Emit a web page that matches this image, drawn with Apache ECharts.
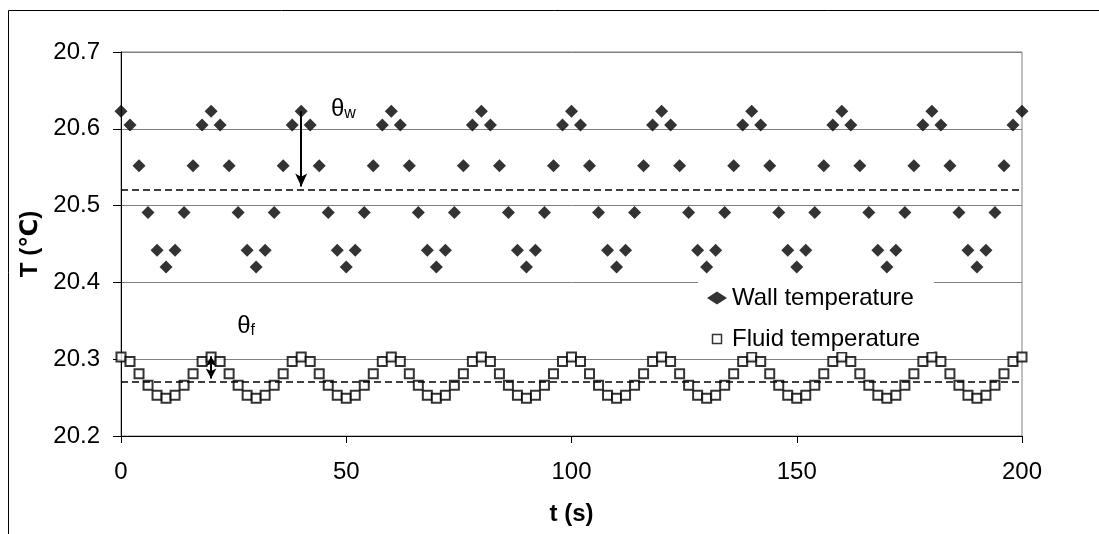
<!DOCTYPE html>
<html>
<head>
<meta charset="utf-8">
<script src="https://cdn.jsdelivr.net/npm/echarts@6/dist/echarts.min.js"></script>
<style>html,body{margin:0;padding:0;background:#fff;}#c{width:1099px;height:534px;}</style>
</head>
<body>
<div id="c"></div>
<script>
// time samples (s)
const times = [0,2,4,6,8,10,12,14,16,18,20,22,24,26,28,30,32,34,36,38,40,42,44,46,48,50,52,54,56,58,60,62,64,66,68,70,72,74,76,78,80,82,84,86,88,90,92,94,96,98,100,102,104,106,108,110,112,114,116,118,120,122,124,126,128,130,132,134,136,138,140,142,144,146,148,150,152,154,156,158,160,162,164,166,168,170,172,174,176,178,180,182,184,186,188,190,192,194,196,198,200];
// wall temperature (°C)
const wallTemp = [20.623,20.605,20.552,20.491,20.442,20.420,20.442,20.491,20.552,20.605,
20.623,20.605,20.552,20.491,20.442,20.420,20.442,20.491,20.552,20.605,
20.623,20.605,20.552,20.491,20.442,20.420,20.442,20.491,20.552,20.605,
20.623,20.605,20.552,20.491,20.442,20.420,20.442,20.491,20.552,20.605,
20.623,20.605,20.552,20.491,20.442,20.420,20.442,20.491,20.552,20.605,
20.623,20.605,20.552,20.491,20.442,20.420,20.442,20.491,20.552,20.605,
20.623,20.605,20.552,20.491,20.442,20.420,20.442,20.491,20.552,20.605,
20.623,20.605,20.552,20.491,20.442,20.420,20.442,20.491,20.552,20.605,
20.623,20.605,20.552,20.491,20.442,20.420,20.442,20.491,20.552,20.605,
20.623,20.605,20.552,20.491,20.442,20.420,20.442,20.491,20.552,20.605,
20.623];
// fluid temperature (°C)
const fluidTemp = [20.303,20.297,20.281,20.266,20.253,20.249,20.253,20.266,20.281,20.297,
20.303,20.297,20.281,20.266,20.253,20.249,20.253,20.266,20.281,20.297,
20.303,20.297,20.281,20.266,20.253,20.249,20.253,20.266,20.281,20.297,
20.303,20.297,20.281,20.266,20.253,20.249,20.253,20.266,20.281,20.297,
20.303,20.297,20.281,20.266,20.253,20.249,20.253,20.266,20.281,20.297,
20.303,20.297,20.281,20.266,20.253,20.249,20.253,20.266,20.281,20.297,
20.303,20.297,20.281,20.266,20.253,20.249,20.253,20.266,20.281,20.297,
20.303,20.297,20.281,20.266,20.253,20.249,20.253,20.266,20.281,20.297,
20.303,20.297,20.281,20.266,20.253,20.249,20.253,20.266,20.281,20.297,
20.303,20.297,20.281,20.266,20.253,20.249,20.253,20.266,20.281,20.297,
20.303];
// mean levels (dashed lines)
const wallMean = 20.524;
const fluidMean = 20.274;
// amplitude arrows: [t, from, to]
const wallArrow = [40, 20.623, 20.525];
const fluidArrow = [20, 20.304, 20.275];
// annotation positions [t, T]
const thetaWPos = [46.6, 20.626];
const thetaFPos = [25.8, 20.344];

const FONT = "'Liberation Sans', Arial, 'DejaVu Sans', sans-serif";
const FS = 24;
const wallData = times.map((t, i) => [t, wallTemp[i]]);
const fluidData = times.map((t, i) => [t, fluidTemp[i]]);

const rich = {
  a: {fontSize: 24, fontFamily: FONT, color: '#000', lineHeight: 26, verticalAlign: 'bottom'},
  b: {fontSize: 16, fontFamily: FONT, color: '#000', lineHeight: 15, verticalAlign: 'bottom'}
};

const chart = echarts.init(document.getElementById('c'), null, {renderer: 'canvas'});
chart.setOption({
  animation: false,
  backgroundColor: '#fff',
  graphic: [{
    type: 'rect', shape: {x: 8.5, y: 10.5, width: 1200, height: 700},
    style: {fill: 'none', stroke: '#000', lineWidth: 1}, silent: true, z: 0
  }],
  grid: {
    left: 121, right: 77, top: 52, bottom: 98,
    show: true, borderColor: '#808080', borderWidth: 1, backgroundColor: 'transparent',
    outerBoundsMode: 'none'
  },
  legend: {
    orient: 'vertical',
    left: 698, top: 277,
    padding: [8, 14, 0, 9],
    backgroundColor: '#fff',
    itemGap: 15,
    itemWidth: 20, itemHeight: 13,
    textStyle: {fontSize: FS, fontFamily: FONT, color: '#000', lineHeight: 26},
    selectedMode: false,
    data: [
      {name: 'Wall temperature', icon: 'diamond', itemStyle: {color: '#000', borderWidth: 0}},
      {name: 'Fluid temperature', icon: 'path://M0,0M2,2L11,2L11,11L2,11Z M13,13',
       itemStyle: {color: '#fff', borderColor: '#000', borderWidth: 1.5}}
    ]
  },
  xAxis: {
    type: 'value', min: 0, max: 200, interval: 50,
    name: 't (s)', nameLocation: 'middle', nameGap: 66,
    nameTextStyle: {fontSize: FS, fontWeight: 'bold', fontFamily: FONT, color: '#000'},
    axisLine: {show: true, onZero: false, lineStyle: {color: '#000', width: 1}},
    axisTick: {show: true, length: 7, lineStyle: {color: '#000'}},
    axisLabel: {fontSize: FS, fontFamily: FONT, color: '#000', margin: 24},
    splitLine: {show: false}
  },
  yAxis: {
    type: 'value', min: 20.2, max: 20.7, interval: 0.1,
    name: 'T (\u2103)', nameLocation: 'middle', nameGap: 79,
    nameTextStyle: {fontSize: FS, fontWeight: 'bold', fontFamily: FONT, color: '#000'},
    axisLine: {show: true, onZero: false, lineStyle: {color: '#000', width: 1}},
    axisTick: {show: true, length: 8, lineStyle: {color: '#000'}},
    axisLabel: {fontSize: FS, fontFamily: FONT, color: '#000', margin: 21,
      formatter: v => v.toFixed(1)},
    splitLine: {show: true, lineStyle: {color: '#808080', width: 1}}
  },
  series: [
    {
      name: 'Wall temperature', type: 'scatter', data: wallData,
      symbol: 'diamond', symbolSize: 13,
      itemStyle: {color: '#000'},
      emphasis: {disabled: true}, silent: true, z: 3,
      markLine: {
        silent: true, animation: false, label: {show: false},
        symbol: ['none', 'none'],
        data: [
          {yAxis: wallMean, lineStyle: {color: '#000', width: 1.5, type: [7, 4]}},
          [
            {coord: [wallArrow[0], wallArrow[1]], symbol: 'none',
             lineStyle: {color: '#000', width: 2, type: 'solid'}},
            {coord: [wallArrow[0], wallArrow[2]], symbol: 'arrow', symbolSize: [9, 13]}
          ]
        ]
      },
      markPoint: {
        silent: true, animation: false,
        data: [{coord: thetaWPos, symbol: 'circle', symbolSize: 0,
          itemStyle: {color: 'transparent'},
          label: {show: true, position: 'right', distance: 0,
            formatter: '{a|\u03b8}{b|w}', rich: rich}}]
      }
    },
    {
      name: 'Fluid temperature', type: 'scatter', data: fluidData,
      symbol: 'rect', symbolSize: 9,
      itemStyle: {color: '#fff', borderColor: '#000', borderWidth: 2},
      emphasis: {disabled: true}, silent: true, z: 3,
      markLine: {
        silent: true, animation: false, label: {show: false},
        symbol: ['none', 'none'],
        data: [
          {yAxis: fluidMean, lineStyle: {color: '#000', width: 1.5, type: [7, 4]}},
          [
            {coord: [fluidArrow[0], fluidArrow[1]], symbol: 'arrow', symbolSize: [8, 10],
             lineStyle: {color: '#000', width: 2, type: 'solid'}},
            {coord: [fluidArrow[0], fluidArrow[2]], symbol: 'arrow', symbolSize: [8, 10]}
          ]
        ]
      },
      markPoint: {
        silent: true, animation: false,
        data: [{coord: thetaFPos, symbol: 'circle', symbolSize: 0,
          itemStyle: {color: 'transparent'},
          label: {show: true, position: 'right', distance: 0,
            formatter: '{a|\u03b8}{b|f}', rich: rich}}]
      }
    }
  ]
});
</script>
</body>
</html>
